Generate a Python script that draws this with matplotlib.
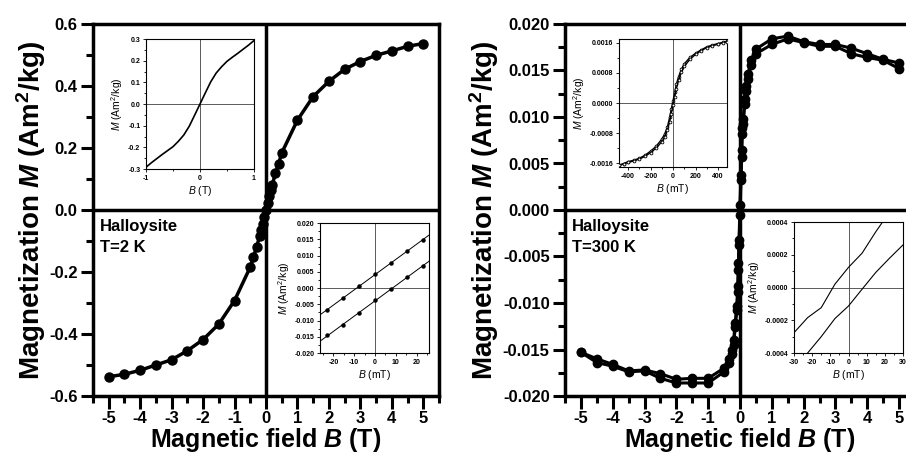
import matplotlib
matplotlib.use("Agg")
import matplotlib.pyplot as plt
import numpy as np
from matplotlib.ticker import MultipleLocator, FormatStrFormatter

plt.rcParams["font.family"] = ["Liberation Sans", "DejaVu Sans"]
plt.rcParams["font.weight"] = "bold"
plt.rcParams["axes.unicode_minus"] = False
plt.rcParams["mathtext.fontset"] = "custom"
plt.rcParams["mathtext.rm"] = "Liberation Sans:weight=normal"
plt.rcParams["mathtext.it"] = "Liberation Sans:style=italic:weight=normal"
plt.rcParams["mathtext.bf"] = "Liberation Sans:weight=bold"
plt.rcParams["mathtext.bfit"] = "Liberation Sans:style=italic:weight=bold"

# --- main panel, T = 2 K ---
b_2k = [-5.0, -4.5, -4.0, -3.5, -3.0, -2.5, -2.0, -1.5, -1.0, -0.5, -0.4, -0.3, -0.2,
        -0.15, -0.1, -0.05, 0.0, 0.05, 0.1, 0.15, 0.2, 0.3, 0.4, 0.5, 1.0, 1.5, 2.0,
        2.5, 3.0, 3.5, 4.0, 4.5, 5.0]
m_2k = [-0.538, -0.530, -0.517, -0.500, -0.483, -0.454, -0.418, -0.368, -0.292, -0.184,
        -0.153, -0.119, -0.084, -0.066, -0.046, -0.024, 0.0, 0.024, 0.046, 0.066, 0.081,
        0.119, 0.149, 0.184, 0.290, 0.366, 0.415, 0.454, 0.479, 0.499, 0.513, 0.528, 0.537]

# inset: low field sweep, T = 2 K
b_2k_in1 = [-1.0, -0.9, -0.8, -0.7, -0.6, -0.5, -0.4, -0.3, -0.2, -0.1, 0.0,
            0.1, 0.2, 0.3, 0.4, 0.5, 0.6, 0.7, 0.8, 0.9, 1.0]
m_2k_in1 = [-0.292, -0.271, -0.252, -0.233, -0.215, -0.197, -0.172, -0.143, -0.103, -0.052, 0.0,
            0.052, 0.103, 0.143, 0.172, 0.197, 0.216, 0.234, 0.253, 0.272, 0.293]

# inset: loop around zero, T = 2 K (mT)
b_2k_in2 = [-23.0, -15.4, -7.7, 0.0, 7.7, 15.4, 23.0]
m_2k_up = [-0.0068, -0.0030, 0.0005, 0.0043, 0.0077, 0.0114, 0.0147]
m_2k_dn = [-0.0146, -0.0114, -0.0076, -0.0038, -0.0004, 0.0033, 0.0068]

# --- main panel, T = 300 K ---
b_300k = [-5.0, -4.5, -4.0, -3.5, -3.0, -2.5, -2.0, -1.5, -1.0, -0.5, -0.35, -0.25, -0.2,
          -0.15, -0.1, -0.07, -0.05, -0.03, 0.0, 0.03, 0.05, 0.07, 0.1, 0.15, 0.2, 0.25,
          0.35, 0.5, 1.0, 1.5, 2.0, 2.5, 3.0, 3.5, 4.0, 4.5, 5.0]
m_300k_a = [-0.0153, -0.0160, -0.0166, -0.0173, -0.0172, -0.0176, -0.0182, -0.0181, -0.0181,
            -0.0170, -0.0160, -0.0150, -0.0140, -0.0121, -0.0103, -0.0082, -0.0057, -0.0032,
            0.0005, 0.0038, 0.0064, 0.0088, 0.0098, 0.0119, 0.0133, 0.0146, 0.0161, 0.0173,
            0.0184, 0.0187, 0.0181, 0.0178, 0.0178, 0.0174, 0.0168, 0.0162, 0.0158]
m_300k_b = [-0.0153, -0.0164, -0.0168, -0.0174, -0.0173, -0.0181, -0.0186, -0.0186, -0.0186,
            -0.0174, -0.0164, -0.0155, -0.0145, -0.0126, -0.0108, -0.0088, -0.0064, -0.0038,
            -0.0005, 0.0032, 0.0057, 0.0082, 0.0093, 0.0114, 0.0128, 0.0141, 0.0156, 0.0168,
            0.0178, 0.0184, 0.0180, 0.0176, 0.0176, 0.0168, 0.0164, 0.0161, 0.0152]

# inset: low field loop, T = 300 K (mT)
b_300k_in1 = [-480, -440, -400, -350, -300, -250, -200, -150, -100, -75, -50, -30, -15, 0,
              15, 30, 50, 75, 100, 150, 200, 250, 300, 350, 400, 440, 480]
m_300k_in1_a = [-0.00165, -0.00161, -0.00156, -0.00152, -0.00147, -0.00139, -0.00128, -0.00115,
                -0.00096, -0.00083, -0.00064, -0.00038, -0.00016, 0.00006, 0.00028, 0.00050,
                0.00070, 0.00090, 0.00104, 0.00121, 0.00132, 0.00141, 0.00149, 0.00154,
                0.00158, 0.00161, 0.00164]
m_300k_in1_b = [-0.00166, -0.00162, -0.00158, -0.00154, -0.00149, -0.00142, -0.00132, -0.00120,
                -0.00103, -0.00091, -0.00072, -0.00050, -0.00028, -0.00006, 0.00016, 0.00038,
                0.00061, 0.00082, 0.00097, 0.00116, 0.00129, 0.00139, 0.00147, 0.00152,
                0.00156, 0.00160, 0.00163]

# inset: loop around zero, T = 300 K (mT)
b_300k_in2 = [-30.0, -22.5, -15.0, -7.5, 0.0, 7.5, 15.0, 22.5, 30.0]
m_300k_up = [-0.000276, -0.000184, -0.000123, 0.00002, 0.000123, 0.00021, 0.00034, 0.00046, 0.00056]
m_300k_dn = [-0.00052, -0.0004, -0.0003, -0.00019, -0.000113, -0.00001, 0.000092, 0.000178, 0.00026]

FIG_W, FIG_H = 906, 465


def px_box(left, top, right, bottom):
    return [left / FIG_W, 1 - bottom / FIG_H, (right - left) / FIG_W, (bottom - top) / FIG_H]


def style_main(ax, ylim, ymajor, yminor, yfmt):
    ax.set_xlim(-5.5, 5.5)
    ax.set_ylim(*ylim)
    ax.xaxis.set_major_locator(MultipleLocator(1))
    ax.xaxis.set_minor_locator(MultipleLocator(0.5))
    ax.yaxis.set_major_locator(MultipleLocator(ymajor))
    ax.yaxis.set_minor_locator(MultipleLocator(yminor))
    ax.yaxis.set_major_formatter(FormatStrFormatter(yfmt))
    ax.tick_params(which="both", direction="out", width=2.2, top=False, right=False)
    ax.tick_params(which="major", length=9, labelsize=12, pad=2)
    ax.tick_params(which="minor", length=5)
    for s in ax.spines.values():
        s.set_linewidth(2.5)
    ax.axhline(0, color="k", lw=2.5, zorder=1)
    ax.axvline(0, color="k", lw=2.5, zorder=1)
    ax.set_xlabel(r"$\mathbf{Magnetic\ field}\ \mathbfit{B}\ \mathbf{(T)}$", fontsize=18, labelpad=0)
    ax.set_ylabel(r"$\mathbf{Magnetization}\ \mathbfit{M}\ \mathbf{(Am^{2}/kg)}$", fontsize=20,
                  labelpad=1)


def style_inset(ax, xlim, ylim, xmaj, xmin, ymaj, ymin, yfmt, xlabel):
    ax.set_xlim(*xlim)
    ax.set_ylim(*ylim)
    ax.xaxis.set_major_locator(MultipleLocator(xmaj))
    ax.xaxis.set_minor_locator(MultipleLocator(xmin))
    ax.yaxis.set_major_locator(MultipleLocator(ymaj))
    ax.yaxis.set_minor_locator(MultipleLocator(ymin))
    ax.xaxis.set_major_formatter(FormatStrFormatter("%g"))
    ax.yaxis.set_major_formatter(FormatStrFormatter(yfmt))
    ax.tick_params(which="both", direction="out", width=0.6, labelsize=5, pad=1.5,
                   top=False, right=False)
    ax.tick_params(which="major", length=2.5)
    ax.tick_params(which="minor", length=1.5)
    for s in ax.spines.values():
        s.set_linewidth(0.8)
    ax.axhline(0, color="0.25", lw=0.6, zorder=1)
    ax.axvline(0, color="0.25", lw=0.6, zorder=1)
    ax.set_xlabel(xlabel, fontsize=7.5, fontweight="normal", labelpad=2)
    ax.set_ylabel(r"$\mathit{M}$ (Am$^2$/kg)", fontsize=7.5, fontweight="normal", labelpad=2)


fig = plt.figure(figsize=(FIG_W / 100, FIG_H / 100), dpi=100)

# left panel
ax1 = fig.add_axes(px_box(93, 24, 439, 396))
ax1.plot(b_2k, m_2k, "k-", lw=2.5, marker="o", ms=6.5, zorder=3)
style_main(ax1, (-0.6, 0.6), 0.2, 0.1, "%.1f")
ax1.text(0.02, 0.475, "Halloysite\nT=2 K", transform=ax1.transAxes, fontsize=12,
         va="top", ha="left", linespacing=1.45)

in1 = fig.add_axes(px_box(146, 39, 254, 169))
in1.plot(b_2k_in1, m_2k_in1, "k-", lw=1.2, zorder=3)
style_inset(in1, (-1, 1), (-0.3, 0.3), 1, 0.5, 0.1, 0.05, "%.1f", r"$\mathit{B}$ (T)")

in2 = fig.add_axes(px_box(320, 223, 429, 353))
xl2 = np.array([-26.5, 26.0])
for m in (m_2k_up, m_2k_dn):
    coef = np.polyfit(b_2k_in2, m, 1)
    in2.plot(xl2, np.polyval(coef, xl2), "k-", lw=0.7, zorder=3)
    in2.plot(b_2k_in2, m, "ko", ms=2.2, zorder=4)
style_inset(in2, tuple(xl2), (-0.02, 0.02), 10, 5, 0.005, 0.0025, "%.3f", r"$\mathit{B}$ (mT)")

# right panel
ax2 = fig.add_axes(px_box(565, 24, 915, 396))
ax2.plot(b_300k, m_300k_a, "k-", lw=2.2, marker="o", ms=6, zorder=3)
ax2.plot(b_300k, m_300k_b, "k-", lw=2.2, marker="o", ms=6, zorder=3)
style_main(ax2, (-0.02, 0.02), 0.005, 0.0025, "%.3f")
ax2.text(0.02, 0.475, "Halloysite\nT=300 K", transform=ax2.transAxes, fontsize=12,
         va="top", ha="left", linespacing=1.45)

in3 = fig.add_axes(px_box(619, 39, 727, 167))
for m in (m_300k_in1_a, m_300k_in1_b):
    in3.plot(b_300k_in1, m, "k-", lw=1.0, marker="o", ms=2.0, mfc="white", mew=0.6, zorder=3)
style_inset(in3, (-480, 480), (-0.0017, 0.0017), 200, 100, 0.0008, 0.0004, "%.4f",
            r"$\mathit{B}$ (mT)")

in4 = fig.add_axes(px_box(794, 222, 903, 353))
in4.plot(b_300k_in2, m_300k_up, "k-", lw=0.8, zorder=3)
in4.plot(b_300k_in2, m_300k_dn, "k-", lw=0.8, zorder=3)
style_inset(in4, (-30, 30), (-0.0004, 0.0004), 10, 5, 0.0002, 0.0001, "%.4f",
            r"$\mathit{B}$ (mT)")

fig.savefig("out.png", dpi=100)
